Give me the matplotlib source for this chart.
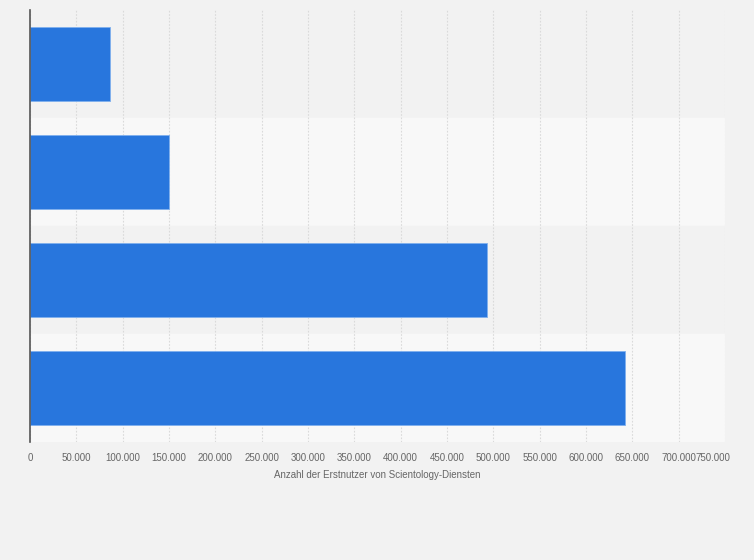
import matplotlib.pyplot as plt
from matplotlib.ticker import FuncFormatter
from matplotlib.transforms import ScaledTranslation

# Erstnutzer von Scientology-Diensten (Balken von oben nach unten)
categories = ["A", "B", "C", "D"]
values = [86000, 150000, 493000, 642000]
ticks = list(range(0, 750001, 50000))

plt.rcParams['font.family'] = ['Liberation Sans', 'DejaVu Sans']

fig = plt.figure(figsize=(7.54, 5.6), dpi=100)
fig.patch.set_facecolor('#f2f2f2')
ax = fig.add_axes([30 / 754, 1 - 442 / 560, 695 / 754, 432 / 560])
ax.set_facecolor('#f2f2f2')

pos = list(range(len(categories)))

# alternating row bands
for i in pos:
    ax.axhspan(i - 0.5, i + 0.5, color='#f2f2f2' if i % 2 == 0 else '#f8f8f8', zorder=0)

ax.barh(pos, values, height=0.68, color='#2876dd', edgecolor='#7fb0ee',
        linewidth=0.6, zorder=3)

ax.set_ylim(len(categories) - 0.5, -0.5)
ax.set_xlim(0, 750000)
ax.set_yticks([])
ax.set_xticks(ticks)
ax.xaxis.set_major_formatter(FuncFormatter(lambda v, p: f"{int(v):,}".replace(",", ".")))
ax.tick_params(axis='x', length=0, labelsize=7, labelcolor='#666666', pad=8)

ax.grid(axis='x', color='#dadada', linestyle=(0, (1.5, 1.5)), linewidth=0.8, zorder=1)
for s in ['top', 'right', 'bottom']:
    ax.spines[s].set_visible(False)
ax.spines['left'].set_color('#555555')
ax.spines['left'].set_linewidth(1.2)
ax.spines['left'].set_zorder(4)

ax.set_xlabel("Anzahl der Erstnutzer von Scientology-Diensten", fontsize=7,
              color='#666666', labelpad=5)

fig.canvas.draw()
last = ax.get_xticklabels()[-1]
last.set_ha('right')
last.set_transform(last.get_transform() + ScaledTranslation(5 / 100, 0, fig.dpi_scale_trans))

fig.savefig('out.png', dpi=100, facecolor=fig.get_facecolor())
